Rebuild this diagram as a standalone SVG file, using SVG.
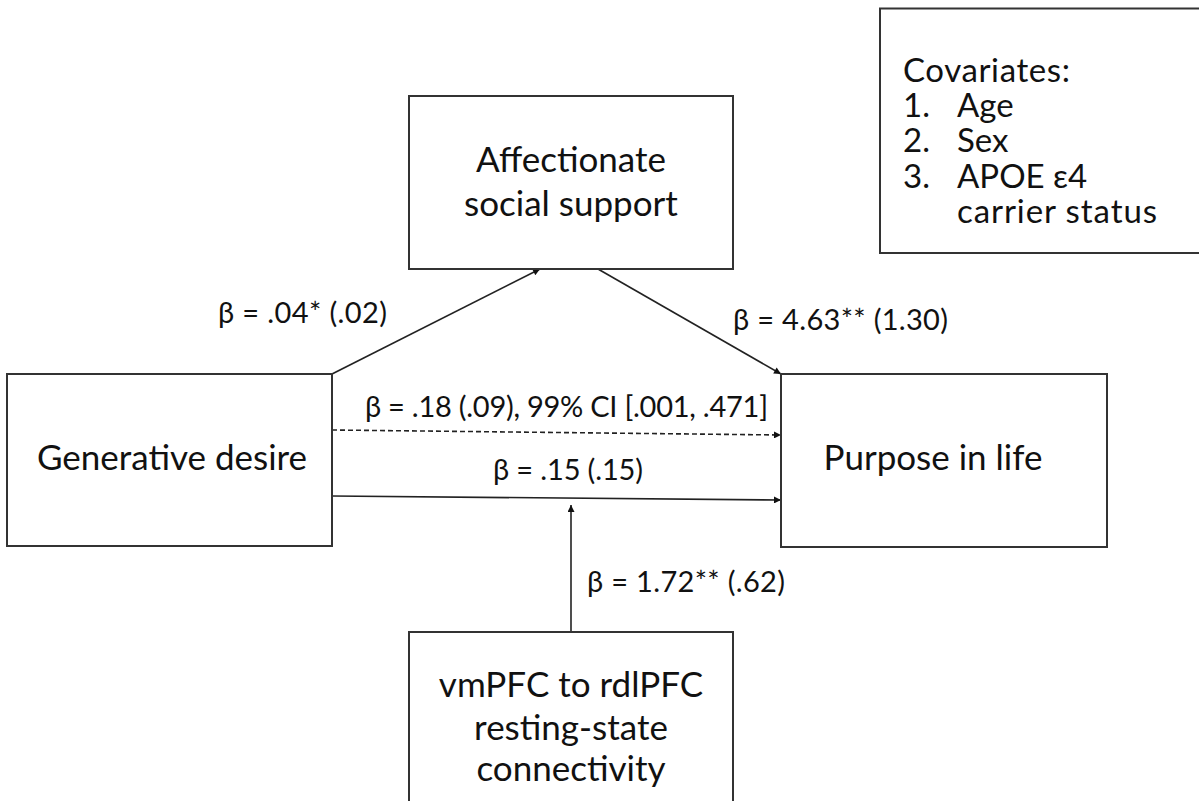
<svg xmlns="http://www.w3.org/2000/svg" width="1199" height="801" viewBox="0 0 1199 801">
<style>
.box{fill:#fff;stroke:#333;stroke-width:2}
.t{font-family:Lato,"Open Sans","Liberation Sans",sans-serif;fill:#111}
.node{font-size:35px;text-anchor:middle}
.lab{font-size:29px}
.cov{font-size:33px}
.edge{stroke:#222;stroke-width:1.6;fill:none}
.dash{stroke-dasharray:5 3}
</style>
<defs>
<marker id="ah" viewBox="0 0 10 10" refX="10" refY="5" markerWidth="9" markerHeight="7" markerUnits="userSpaceOnUse" orient="auto">
<path d="M0,0 L10,5 L0,10 z" fill="#111"/>
</marker>
</defs>
<rect width="1199" height="801" fill="#fff"/>
<g id="edges">
<line class="edge" x1="332" y1="374" x2="540" y2="269" marker-end="url(#ah)"/>
<line class="edge" x1="598" y1="269" x2="781" y2="374" marker-end="url(#ah)"/>
<line class="edge dash" x1="332" y1="430" x2="781" y2="435" marker-end="url(#ah)"/>
<line class="edge" x1="332" y1="496" x2="781" y2="500" marker-end="url(#ah)"/>
<line class="edge" x1="571" y1="632" x2="571" y2="505" marker-end="url(#ah)"/>
<text class="t lab" x="218" y="323" textLength="169">β = .04* (.02)</text>
<text class="t lab" x="733" y="330" textLength="215">β = 4.63** (1.30)</text>
<text class="t lab" x="365" y="417" textLength="403">β = .18 (.09), 99% CI [.001, .471]</text>
<text class="t lab" x="493" y="480" textLength="150">β = .15 (.15)</text>
<text class="t lab" x="587" y="592" textLength="198">β = 1.72** (.62)</text>
</g>
<g id="covariates">
<rect class="box" x="880" y="8.5" width="340" height="244.5"/>
<text class="t cov" x="903" y="82" textLength="167">Covariates:</text>
<text class="t cov" x="903" y="117">1.</text><text class="t cov" x="957" y="117">Age</text>
<text class="t cov" x="903" y="152">2.</text><text class="t cov" x="957" y="152">Sex</text>
<text class="t cov" x="903" y="188">3.</text><text class="t cov" x="957" y="188">APOE ε4</text>
<text class="t cov" x="957" y="223" textLength="200">carrier status</text>
</g>
<g id="affectionate">
<rect class="box" x="409" y="96" width="324" height="173"/>
<text class="t node" x="571" y="172">Affectionate</text>
<text class="t node" x="571" y="216">social support</text>
</g>
<g id="generative">
<rect class="box" x="7" y="374" width="325" height="172"/>
<text class="t node" x="172" y="470">Generative desire</text>
</g>
<g id="purpose">
<rect class="box" x="781" y="374" width="326" height="173"/>
<text class="t node" x="933" y="470">Purpose in life</text>
</g>
<g id="vmpfc">
<rect class="box" x="409" y="632" width="324" height="200"/>
<text class="t node" x="571" y="697">vmPFC to rdlPFC</text>
<text class="t node" x="571" y="740">resting-state</text>
<text class="t node" x="571" y="781">connectivity</text>
</g>
</svg>
